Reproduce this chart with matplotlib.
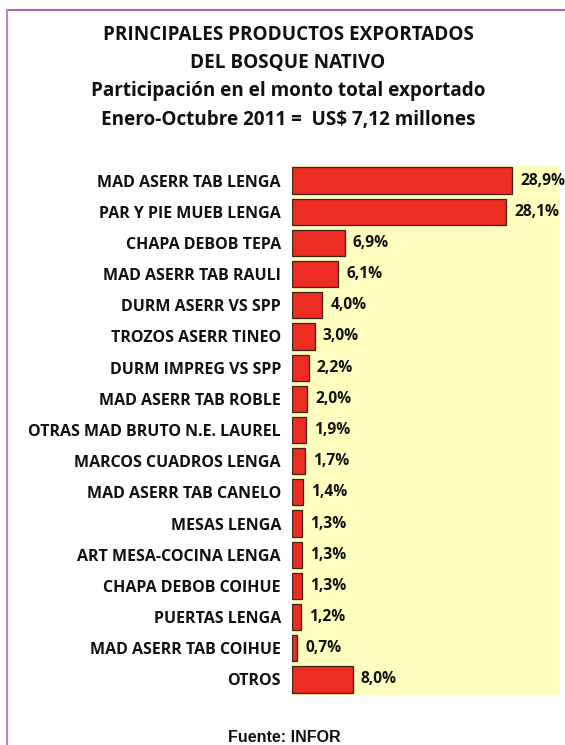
import matplotlib.pyplot as plt

plt.rcParams['font.family'] = ['Open Sans', 'DejaVu Sans']

# data (percent of total export value)
productos = ['MAD ASERR TAB LENGA', 'PAR Y PIE MUEB LENGA', 'CHAPA DEBOB TEPA',
             'MAD ASERR TAB RAULI', 'DURM ASERR VS SPP', 'TROZOS ASERR TINEO',
             'DURM IMPREG VS SPP', 'MAD ASERR TAB ROBLE', 'OTRAS MAD BRUTO N.E. LAUREL',
             'MARCOS CUADROS LENGA', 'MAD ASERR TAB CANELO', 'MESAS LENGA',
             'ART MESA-COCINA LENGA', 'CHAPA DEBOB COIHUE', 'PUERTAS LENGA',
             'MAD ASERR TAB COIHUE', 'OTROS']
participacion = [28.9, 28.1, 6.9, 6.1, 4.0, 3.0, 2.2, 2.0, 1.9,
                 1.7, 1.4, 1.3, 1.3, 1.3, 1.2, 0.7, 8.0]
etiquetas = [f'{v:.1f}%'.replace('.', ',') for v in participacion]

titulo = ['PRINCIPALES PRODUCTOS EXPORTADOS',
          'DEL BOSQUE NATIVO',
          'Participación en el monto total exportado',
          'Enero-Octubre 2011 =  US$ 7,12 millones']

fig = plt.figure(figsize=(5.65, 7.45), dpi=100)
ax = fig.add_axes([292 / 565, 1 - 695 / 745, 268 / 565, 530 / 745])
ax.set_facecolor('#FFFFC0')

pos = list(range(len(productos)))
ax.barh(pos, participacion, height=0.84, color='#EE2C22', edgecolor='#3A2418', linewidth=0.9)
for p, v, t in zip(pos, participacion, etiquetas):
    ax.text(v + 1.05, p, t, va='center', ha='left', fontsize=11.2, fontweight='bold', color='#111111')

ax.set_xlim(0, 35.2)
ax.set_ylim(len(productos) - 0.5, -0.5)
ax.set_yticks(pos)
ax.set_yticklabels(productos, fontsize=11.5, fontweight='bold', color='#111111')
ax.set_xticks([])
ax.tick_params(axis='y', length=0, pad=8)
for s in ax.spines.values():
    s.set_visible(False)

# title block
for i, line in enumerate(titulo):
    fig.text(288 / 565, 1 - (40 + 28.2 * i) / 745, line, ha='center', va='baseline',
             fontsize=13.6, fontweight='bold', color='#111111')

fig.text(284 / 565, 1 - 737 / 745, 'Fuente: INFOR', ha='center', va='center',
         fontsize=11.5, fontweight='bold', family=['Liberation Sans', 'DejaVu Sans'], color='#111111')

# chart frame
fig.add_artist(plt.Line2D([7 / 565, 1], [1 - 10 / 745, 1 - 10 / 745], transform=fig.transFigure,
                          color='#A040A8', linewidth=1.2))
fig.add_artist(plt.Line2D([7 / 565, 7 / 565], [0, 1 - 10 / 745], transform=fig.transFigure,
                          color='#C080D0', linewidth=1.5))

fig.savefig('out.png', dpi=100)
